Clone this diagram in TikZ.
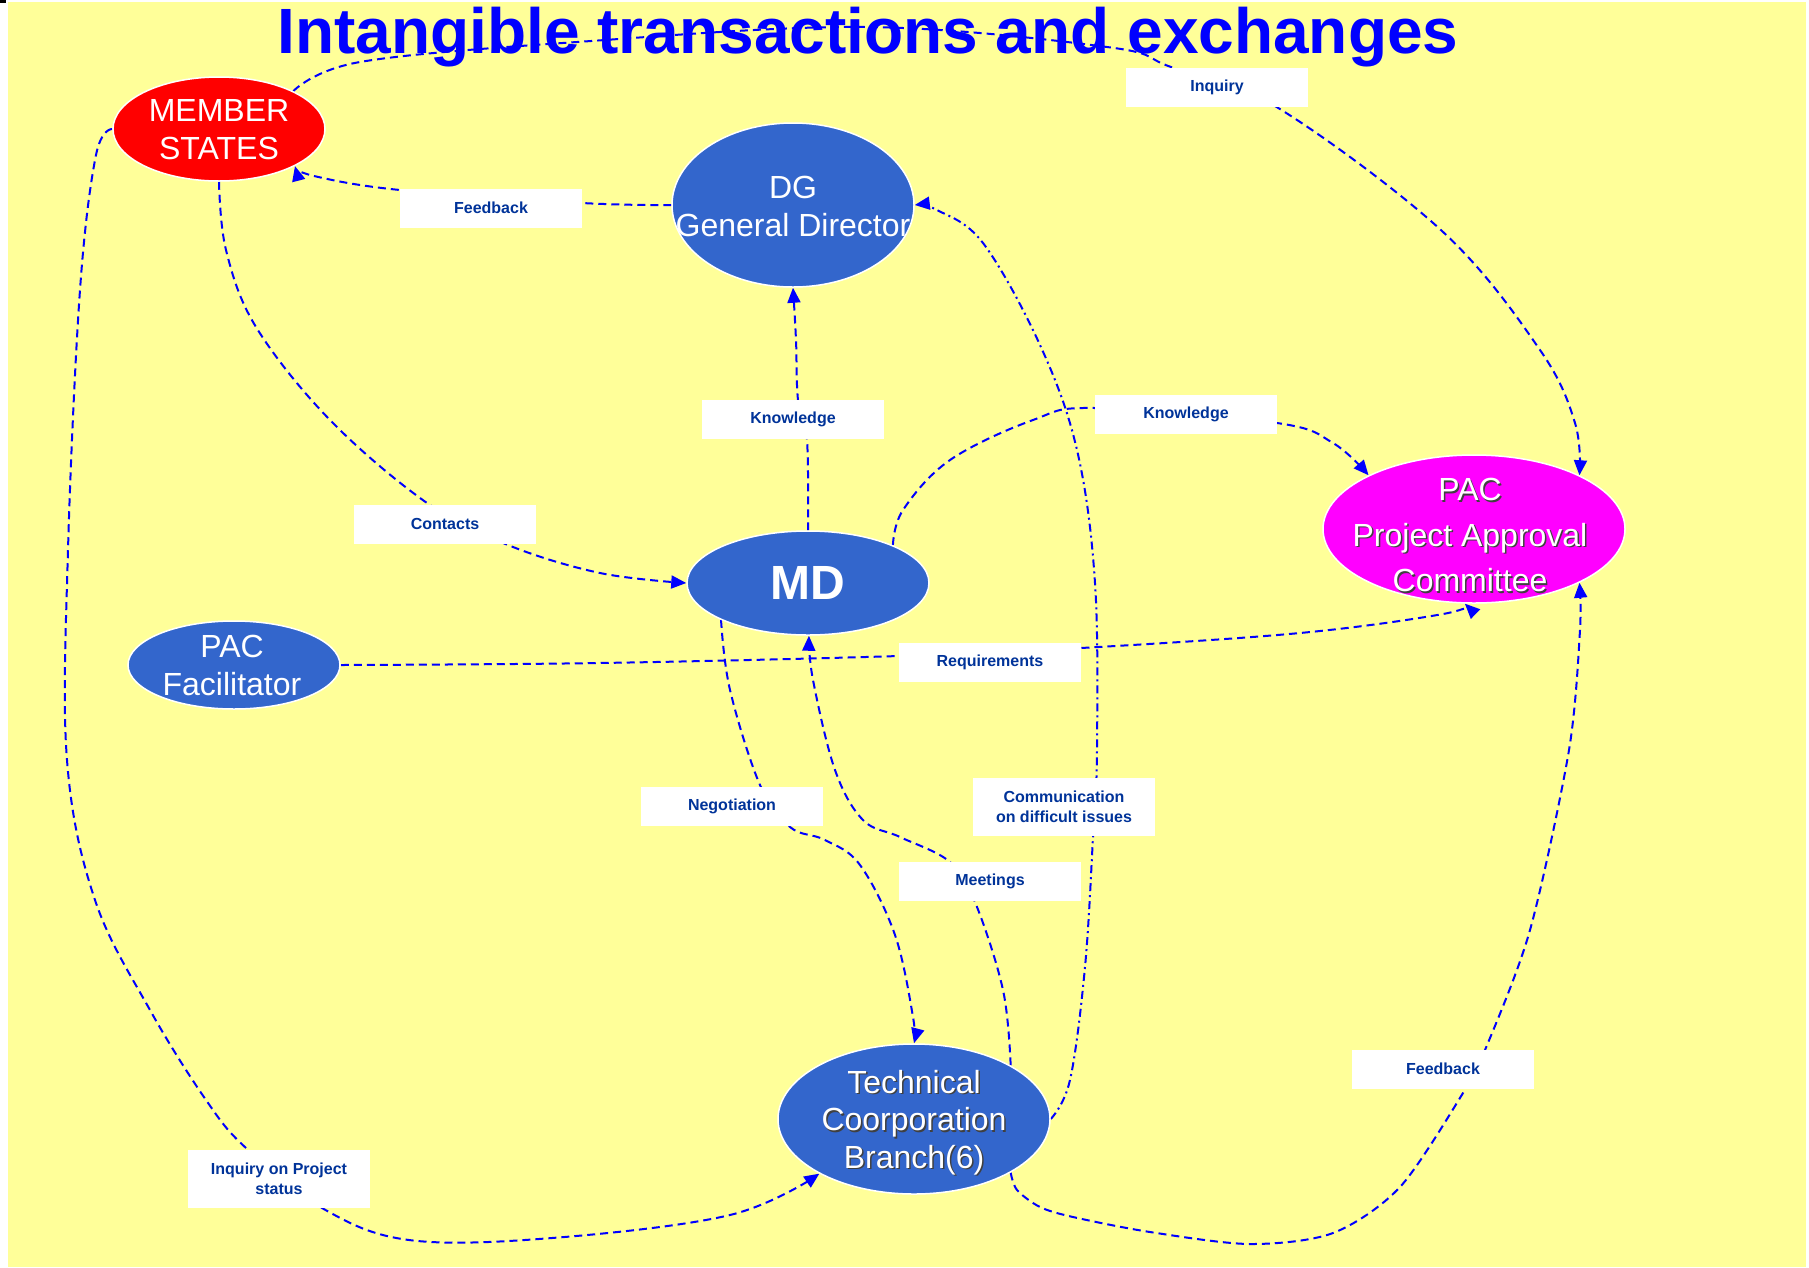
\documentclass[tikz,border=0pt]{standalone}
\usepackage{fontspec}
\setmainfont{Liberation Sans}
\usetikzlibrary{shapes.geometric,arrows.meta}
\definecolor{bgyellow}{RGB}{255,255,153}
\definecolor{nodeblue}{RGB}{51,102,204}
\definecolor{nodemagenta}{RGB}{255,0,255}
\definecolor{nodered}{RGB}{255,0,0}
\definecolor{lineblue}{RGB}{0,0,255}
\definecolor{lblblue}{RGB}{0,51,153}
\pgfdeclarelayer{bg}
\pgfdeclarelayer{edges}
\pgfsetlayers{bg,edges,main}
\begin{document}
\begin{tikzpicture}[x=1pt,y=-1pt,
  ell/.style={ellipse, draw=white, line width=1.5pt, inner sep=0pt},
  ntext/.style={text=white, font=\fontsize{32}{38}\selectfont, align=center, inner sep=0pt},
  shadowtext/.style={text=black!75, font=\fontsize{32}{45.5}\selectfont, align=center, inner sep=0pt},
  lbl/.style={fill=white, minimum width=182pt, minimum height=39pt, inner sep=0pt,
              font=\bfseries\fontsize{16}{19.5}\selectfont, text=lblblue, align=center},
  conn/.style={draw=lineblue, line width=2pt, dash pattern=on 8pt off 5pt},
  dashdot/.style={draw=lineblue, line width=2pt, dash pattern=on 8pt off 4pt on 2pt off 4pt},
  tipend/.style={-{Triangle[length=15pt,width=13pt]}},
  smoothed/.style={smooth, tension=0.6}]
\useasboundingbox (0,0) rectangle (1809,1267);
\begin{pgfonlayer}{bg}
  \fill[white] (0,0) rectangle (1809,1267);
  \fill[bgyellow] (8,2) rectangle (1806,1267);
  \fill[black] (0,0) rectangle (6,3);
  \node[anchor=base, text=lineblue, font=\bfseries\fontsize{64}{70}\selectfont, inner sep=0pt] (title) at (868,53) {Intangible transactions and exchanges};
\end{pgfonlayer}

% main nodes
\node[ell, fill=nodered, minimum width=212pt, minimum height=104pt] (ms) at (219,129) {};
\node[ntext] (mst) at (219,130) {MEMBER\\STATES};
\node[ell, fill=nodeblue, minimum width=242pt, minimum height=164pt] (dg) at (793,205) {};
\node[ntext] (dgt) at (793,206) {DG\\General Director};
\node[ell, fill=nodeblue, minimum width=242pt, minimum height=104pt] (md) at (808,583) {};
\node[text=white, font=\bfseries\fontsize{48}{52}\selectfont, inner sep=0pt] (mdt) at (808,583) {MD};
\node[ell, fill=nodemagenta, minimum width=302pt, minimum height=148pt] (pac) at (1474,529) {};
\node[shadowtext] (pacs) at (1471.5,536.5) {PAC\\Project Approval\\Committee};
\node[ntext, font=\fontsize{32}{45.5}\selectfont] (pact) at (1470,535) {PAC\\Project Approval\\Committee};
\node[ell, fill=nodeblue, minimum width=212pt, minimum height=88pt] (pf) at (234,665) {};
\node[ntext] (pft) at (232,665) {PAC\\Facilitator};
\node[ell, fill=nodeblue, minimum width=272pt, minimum height=150pt] (tc) at (914,1119) {};
\node[shadowtext, font=\fontsize{32}{37.5}\selectfont] (tcs) at (915.5,1124) {Technical\\Coorporation\\Branch(6)};
\node[ntext, font=\fontsize{32}{37.5}\selectfont] (tct) at (914,1122.5) {Technical\\Coorporation\\Branch(6)};

% labels
\node[lbl] (lInq) at (1217,87) {Inquiry};
\node[lbl] (lFb1) at (491,208) {Feedback};
\node[lbl] (lKn1) at (793,419) {Knowledge};
\node[lbl] (lKn2) at (1186,414) {Knowledge};
\node[lbl] (lCon) at (445,524) {Contacts};
\node[lbl] (lReq) at (990,662) {Requirements};
\node[lbl] (lNeg) at (732,806) {Negotiation};
\node[lbl, minimum height=58pt] (lCom) at (1064,807) {Communication\\on difficult issues};
\node[lbl] (lMee) at (990,881) {Meetings};
\node[lbl] (lFb2) at (1443,1069) {Feedback};
\node[lbl, minimum height=58pt] (lIPS) at (279,1179) {Inquiry on Project\\status};

\begin{pgfonlayer}{edges}
  % Inquiry: MS -> PAC (through label lInq)
  \draw[conn, tipend] plot[smoothed] coordinates {(ms.27) (360,62) (577,42) (865,27) (1107,47) (1171,67) (1275,106) (1442,231) (1540,350) (1575,423) (pac.27)};
  % Feedback: DG -> MS (through lFb1)
  \draw[conn, tipend] plot[smoothed] coordinates {(dg.180) (582,203) (400,190) (314,176) (ms.-26)};
  % Contacts: MS -> MD (through lCon)
  \draw[conn, tipend] plot[smoothed] coordinates {(ms.-90) (226,250) (256,327) (330,420) (427,503) (508,545) (600,573) (md.180)};
  % Knowledge: MD -> DG (through lKn1)
  \draw[conn, tipend] plot[smoothed] coordinates {(md.90) (807,440) (798,400) (796,340) (dg.-90)};
  % Knowledge: MD -> PAC (through lKn2)
  \draw[conn, tipend] plot[smoothed] coordinates {(md.24) (903,510) (950,460) (1033,420) (1095,408) (1277,423) (1333,443) (pac.153)};
  % Requirements: PF -> PAC (through lReq)
  \draw[conn, tipend] plot[smoothed] coordinates {(pf.0) (600,663) (899,656) (1081,648) (1300,633) (1443,614) (pac.-97)};
  % Negotiation: MD -> TC (through lNeg)
  \draw[conn, tipend] plot[smoothed] coordinates {(md.-157) (730,690) (760,785) (790,827) (825,840) (860,865) (895,935) (913,1017) (tc.90)};
  % Meetings: TC -> MD (through lMee)
  \draw[conn, tipend] plot[smoothed] coordinates {(tc.29) (1003,990) (975,902) (950,862) (900,837) (863,820) (835,770) (813,680) (md.-89)};
  % Communication on difficult issues: TC -> DG (through lCom)
  \draw[dashdot, tipend] plot[smoothed] coordinates {(tc.0) (1070,1080) (1085,967) (1093,837) (1097,750) (1095,583) (1077,450) (1040,345) (983,243) (937,210) (dg.0)};
  % Feedback: TC -> PAC (through lFb2)
  \draw[conn, tipend] plot[smooth, tension=0.5] coordinates {(tc.-29) (1017,1190) (1040,1207) (1073,1217) (1150,1232) (1250,1244) (1333,1233) (1400,1187) (1463,1093) (1485,1050) (1530,930) (1569,750) (1580,630) (pac.-27)};
  % Inquiry on Project status: MS -> TC (through lIPS)
  \draw[conn, tipend] plot[smoothed] coordinates {(ms.180) (96,155) (80,290) (68,550) (67,760) (95,900) (150,1010) (206,1100) (246,1148) (322,1208) (409,1240) (552,1238) (730,1215) (tc.-150)};
\end{pgfonlayer}
\end{tikzpicture}
\end{document}
